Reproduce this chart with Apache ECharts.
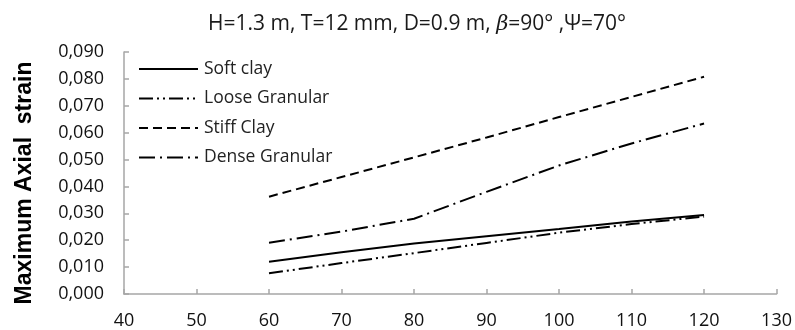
<!DOCTYPE html>
<html>
<head>
<meta charset="utf-8">
<script src="https://cdn.jsdelivr.net/npm/echarts@6/dist/echarts.min.js"></script>
<style>
  html, body { margin: 0; padding: 0; background: #fff; }
  #main { width: 795px; height: 330px; }
</style>
</head>
<body>
<div id="main"></div>
<script>
// x values (common to all curves)
const xValues = [60, 70, 80, 90, 100, 110, 120];

// maximum axial strain
const softClay = [0.0120, 0.0155, 0.0188, 0.0215, 0.0242, 0.0270, 0.0294];
const looseGranular = [0.0077, 0.0115, 0.0152, 0.0190, 0.0228, 0.0260, 0.0288];
const stiffClay = [0.0362, 0.0435, 0.0508, 0.0582, 0.0658, 0.0733, 0.0808];
const denseGranular = [0.0191, 0.0232, 0.0280, 0.0380, 0.0478, 0.0560, 0.0634];

const seriesNames = ['Soft clay', 'Loose Granular', 'Stiff Clay', 'Dense Granular'];

const FONT = '"Open Sans", "Liberation Sans", sans-serif';

const pairs = arr => xValues.map((x, i) => [x, arr[i]]);

const chart = echarts.init(document.getElementById('main'));

function lineSeries(name, data, dash) {
  return {
    name: name,
    type: 'line',
    data: pairs(data),
    symbol: 'none',
    smooth: false,
    lineStyle: { color: '#000', width: 2, type: dash },
    itemStyle: { color: '#000' },
    emphasis: { disabled: true }
  };
}

const option = {
  animation: false,
  title: {
    text: 'H=1.3 m, T=12 mm, D=0.9 m, {b|β}=90° ,Ψ=70°',
    left: 412,
    textAlign: 'center',
    top: 9,
    textStyle: {
      fontFamily: FONT,
      fontSize: 21,
      fontWeight: 'normal',
      color: '#1a1a1a',
      rich: {
        b: { fontFamily: 'DejaVu Serif', fontStyle: 'italic', fontSize: 21, color: '#1a1a1a' }
      }
    }
  },
  legend: {
    orient: 'vertical',
    left: 138,
    top: 60,
    padding: 0,
    itemWidth: 59,
    itemHeight: 14,
    itemGap: 11.5,
    data: seriesNames,
    // hide the point symbol, keep the dashed line sample
    itemStyle: { opacity: 0, borderWidth: 0 },
    textStyle: { fontFamily: FONT, fontSize: 17.5, color: '#222', padding: [0, 0, 0, 1] }
  },
  grid: { left: 124, right: 17, top: 52, bottom: 36 },
  xAxis: {
    type: 'value',
    min: 40,
    max: 130,
    interval: 10,
    axisLine: { lineStyle: { color: '#a6a6a6', width: 1.5 } },
    axisTick: { inside: true, length: 5, lineStyle: { color: '#a6a6a6', width: 1.5 } },
    splitLine: { show: false },
    axisLabel: { fontFamily: FONT, fontSize: 18, color: '#111', margin: 18 }
  },
  yAxis: {
    type: 'value',
    min: 0,
    max: 0.09,
    interval: 0.01,
    name: 'Maximum Axial  strain',
    nameLocation: 'middle',
    nameGap: 88,
    nameTextStyle: {
      fontFamily: '"Liberation Sans", Arial, sans-serif',
      fontWeight: 'bold',
      fontSize: 23,
      color: '#000',
      padding: [0, 20, 0, 0]
    },
    axisLine: { show: true, lineStyle: { color: '#a6a6a6', width: 1.5 } },
    axisTick: { show: true, inside: true, length: 5, lineStyle: { color: '#a6a6a6', width: 1.5 } },
    splitLine: { show: false },
    axisLabel: {
      fontFamily: FONT,
      fontSize: 18,
      color: '#111',
      margin: 20,
      formatter: v => v.toFixed(3).replace('.', ',')
    }
  },
  series: [
    lineSeries(seriesNames[0], softClay, 'solid'),
    lineSeries(seriesNames[1], looseGranular, [14, 4, 2, 4, 2, 4]),
    lineSeries(seriesNames[2], stiffClay, [9, 5]),
    lineSeries(seriesNames[3], denseGranular, [16, 5, 2, 5])
  ]
};

chart.setOption(option);
</script>
</body>
</html>
